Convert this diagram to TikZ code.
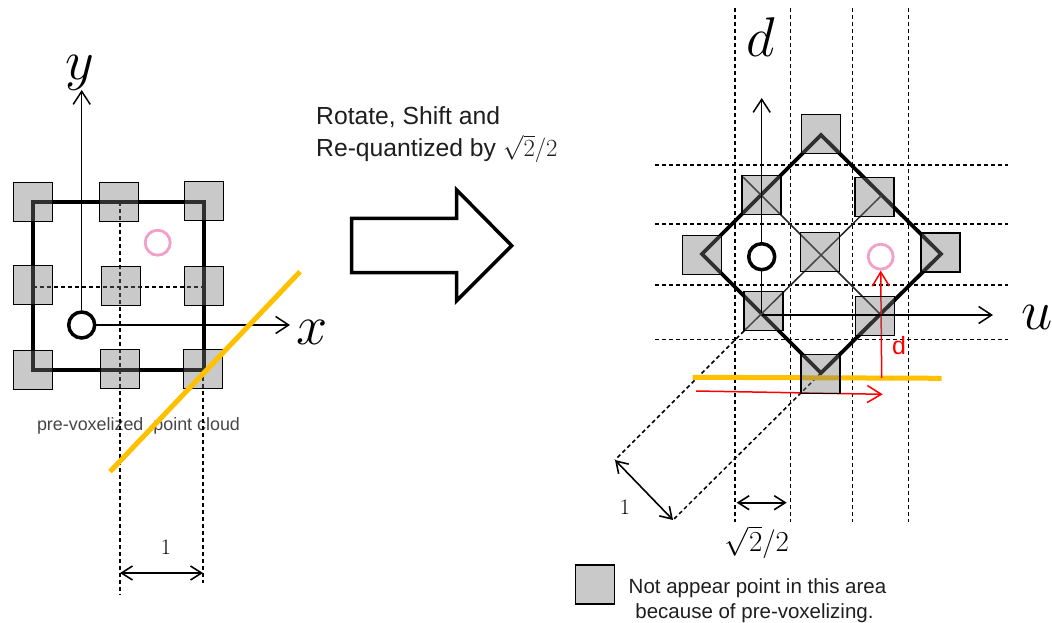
\RequirePackage{fix-cm}
\documentclass[tikz,border=0pt]{standalone}
\usepackage{fontspec}
\newfontfamily\arial{Liberation Sans}
\usetikzlibrary{arrows.meta}
\definecolor{sqgray}{RGB}{120,120,120}
\definecolor{gold}{RGB}{255,192,0}
\definecolor{pinkc}{RGB}{242,160,200}
\definecolor{txtdark}{RGB}{30,30,30}
\definecolor{txtgray}{RGB}{70,70,70}
\definecolor{redc}{RGB}{255,0,0}
\tikzset{
  sq/.style={rectangle, draw=black, line width=1.6pt, fill=sqgray, fill opacity=0.4, draw opacity=1, minimum size=39pt, inner sep=0pt},
  dashline/.style={line width=1.5pt, dash pattern=on 4pt off 3pt},
  outline/.style={line width=4pt, line join=miter},
  ocirc/.style={circle, draw=black, fill=white, line width=3.5pt, minimum size=26pt, inner sep=0pt},
  pcirc/.style={circle, draw=pinkc, line width=2.8pt, minimum size=25pt, inner sep=0pt},
  axisarrow/.style={line width=1.5pt, -{Straight Barb[length=13pt,width=17pt]}},
  dimarrow/.style={line width=1.6pt, {Straight Barb[length=11pt,width=14pt]}-{Straight Barb[length=11pt,width=14pt]}},
  redarrow/.style={line width=1.5pt, draw=redc, -{Straight Barb[length=14pt,width=17pt]}},
  goldline/.style={line width=5pt, draw=gold},
  thinline/.style={line width=1.5pt, draw=black!85},
  biglabel/.style={inner sep=0pt, font=\fontsize{56}{56}\selectfont},
  numlabel/.style={inner sep=0pt, font=\fontsize{22}{22}\selectfont},
  smalltxt/.style={inner sep=0pt, text=txtgray, font=\arial\fontsize{17.9}{20}\selectfont},
  midtxt/.style={inner sep=0pt, text=txtdark, font=\arial\fontsize{24.7}{30}\selectfont},
  legtxt/.style={inner sep=0pt, text=txtdark, font=\arial\fontsize{20.5}{25}\selectfont},
  blockarrow/.style={line width=3.5pt, draw=black, fill=white, line join=miter}
}
\begin{document}
\begin{tikzpicture}[x=1pt,y=-1pt]
\useasboundingbox (0,0) rectangle (1052,623);
% ================= LEFT =================
\node[smalltxt, anchor=base] (ptc) at (138.5,430) {pre-voxelized~~point cloud};
\coordinate (lv1a) at (120,202); \coordinate (lv1b) at (120,595);
\coordinate (lv2a) at (203,370); \coordinate (lv2b) at (203,583);
\coordinate (lha) at (33,287);   \coordinate (lhb) at (204,287);
\draw[dashline] (lv1a) -- (lv1b);
\draw[dashline] (lv2a) -- (lv2b);
\draw[dashline] (lha) -- (lhb);
\coordinate (lc1) at (33,202); \coordinate (lc2) at (204,202);
\coordinate (lc3) at (204,370); \coordinate (lc4) at (33,370);
\draw[outline] (lc1) -- (lc2) -- (lc3) -- (lc4) -- cycle;
\foreach \n/\x/\y in {a1/33/202, a2/119/202, a3/204/201,
                      a4/33/285, a5/121/286, a6/204/286,
                      a7/33/370, a8/120/369, a9/203/369}
  \node[sq] (\n) at (\x,\y) {};
\node[ocirc] (o1) at (81.7,325) {};
\coordinate (ytip) at (81.7,90);
\coordinate (xtip) at (290,325);
\draw[axisarrow] (o1.north) -- (ytip);
\draw[axisarrow] (o1.east) -- (xtip);
\node[biglabel] (ylab) at (80,73) {$y$};
\node[biglabel] (xlab) at (312,332) {$x$};
\node[pcirc] (p1) at (157.7,242.7) {};
\coordinate (ora) at (110,471.7); \coordinate (orb) at (300,271.7);
\draw[goldline] (ora) -- (orb);
\coordinate (d1a) at (120,573); \coordinate (d1b) at (203,573);
\draw[dimarrow] (d1a) -- (d1b);
\node[numlabel, anchor=base] (one1) at (166,554) {1};
% ================= MIDDLE =================
\node[midtxt, anchor=base west] (t1) at (316,125) {Rotate, Shift and};
\node[midtxt, anchor=base west] (t2) at (316,156.7) {Re-quantized by $\sqrt{2}/2$};
\draw[blockarrow] (351.7,218.3) -- (456.7,218.3) -- (456.7,190) -- (511.7,245.7)
   -- (456.7,300.7) -- (456.7,272.7) -- (351.7,272.7) -- cycle;
% ================= RIGHT =================
\foreach \x in {735,790.7,852.3,908.7}
  \draw[dashline] (\x,8) -- (\x,522);
\foreach \y in {165,224,285,339.3}
  \draw[dashline] (655,\y) -- (1008,\y);
\coordinate (dT) at (821,135); \coordinate (dR) at (941,254);
\coordinate (dB) at (821,373); \coordinate (dL) at (702,254);
\draw[outline, line width=3.8pt] (dT) -- (dR) -- (dB) -- (dL) -- cycle;
\coordinate (th1a) at (743,177); \coordinate (th1b) at (880.5,314.5);
\coordinate (th2a) at (881.5,195.5); \coordinate (th2b) at (744,331);
\draw[thinline] (th1a) -- (th1b);
\draw[thinline] (th2a) -- (th2b);
\coordinate (s1) at (615,460); \coordinate (s2) at (673,520);
\draw[dashline] (th2b) -- (s1);
\draw[dashline] (dB) -- (s2);
\draw[dimarrow] (s1) -- (s2);
\node[numlabel, anchor=base] (one2) at (625,514) {1};
\coordinate (orc) at (692.7,377.3); \coordinate (ord) at (941.7,378.3);
\draw[goldline] (orc) -- (ord);
\coordinate (rha) at (696,391); \coordinate (rhb) at (882.7,394.3);
\draw[redarrow] (rha) -- (rhb);
\node[pcirc] (p2) at (880.7,256.7) {};
\coordinate (rva) at (881.7,378);
\draw[redarrow] (rva) -- (p2.south);
\node[inner sep=0pt, text=redc, font=\arial\fontsize{25}{25}\selectfont, anchor=base] (dred) at (899,354) {d};
\foreach \n/\x/\y in {b1/821/134, b2/761.7/195, b3/874.7/197,
                      b4/702/255, b5/820/252, b6/940.7/252.7,
                      b7/763.7/311, b8/875/316, b9/820.3/374}
  \node[sq] (\n) at (\x,\y) {};
\coordinate (dbot) at (761.7,313); \coordinate (dtip) at (761.7,98);
\coordinate (uorg) at (761.7,315); \coordinate (utip) at (993,315);
\draw[axisarrow] (dbot) -- (dtip);
\draw[axisarrow] (uorg) -- (utip);
\node[ocirc] (o2) at (761.7,256.7) {};
\node[biglabel] (dlab) at (761,37.5) {$d$};
\node[biglabel] (ulab) at (1037,317.5) {$u$};
\coordinate (r2a) at (736.7,502.7); \coordinate (r2b) at (786.7,502.7);
\draw[dimarrow] (r2a) -- (r2b);
\node[inner sep=0pt, font=\fontsize{29}{29}\selectfont, anchor=base] (sq2) at (757,551.7) {$\sqrt{2}/2$};
% ================= LEGEND =================
\node[sq] (leg) at (595,584.2) {};
\node[legtxt, anchor=base] (lg1) at (757.5,593.3) {Not appear point in this area};
\node[legtxt, anchor=base] (lg2) at (754.5,618.3) {because of pre-voxelizing.};
\end{tikzpicture}
\end{document}
